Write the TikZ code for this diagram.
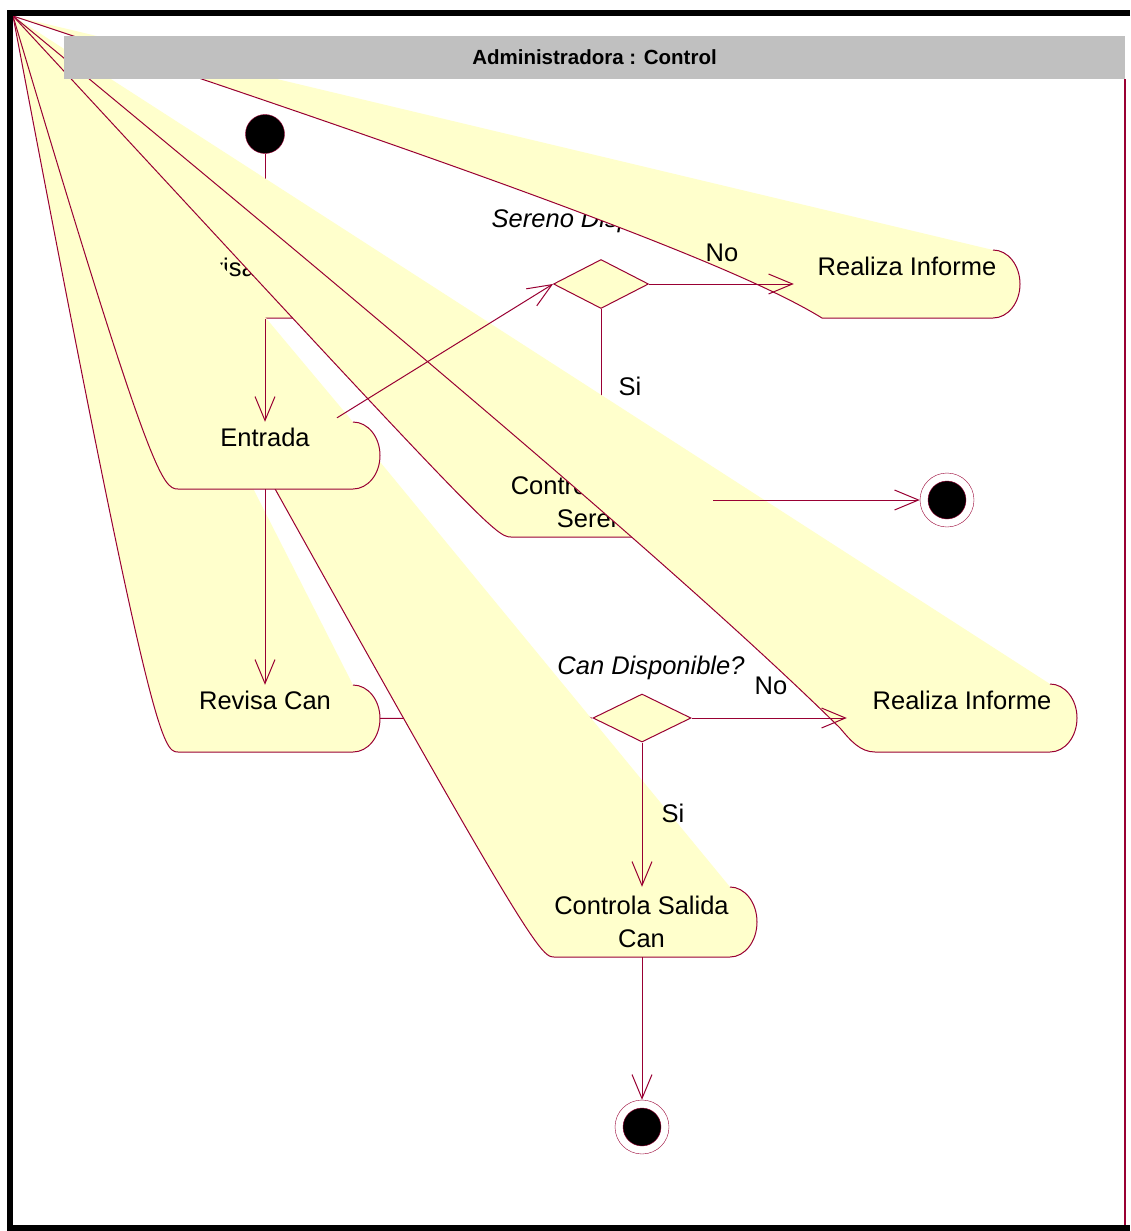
\documentclass[tikz,border=0pt]{standalone}
\usepackage{fontspec}
\setmainfont{Liberation Sans}
\usetikzlibrary{arrows.meta,positioning,shapes.geometric}
\definecolor{roseline}{RGB}{153,0,51}
\definecolor{rosefill}{RGB}{255,255,204}
\definecolor{lanegray}{RGB}{192,192,192}

\begin{document}
\begin{tikzpicture}[x=1pt,y=-1pt,
 fan/.style={fill=rosefill},
 fanedge/.style={draw=roseline,line width=1pt},
 act/.style={font=\fontsize{25.5}{33}\selectfont,inner sep=0pt,minimum width=230pt,text height=24.5pt,text depth=42.5pt},
 act2/.style={font=\fontsize{25.5}{33}\selectfont,inner sep=0pt,minimum width=230pt,minimum height=70pt,align=center},
 decision/.style={diamond,draw=roseline,line width=1pt,fill=rosefill,inner sep=0pt},
 cond/.style={font=\fontsize{25.5}{30}\selectfont\itshape,inner sep=0pt,anchor=base},
 guard/.style={font=\fontsize{25.5}{30}\selectfont,inner sep=0pt,anchor=base},
 trans/.style={draw=roseline,line width=1pt,-{Straight Barb[length=24pt,width=20pt]}},
 startnode/.style={circle,draw=roseline,fill=black,minimum size=39pt,inner sep=0pt},
 endnode/.style={circle,draw=roseline,fill=white,minimum size=54pt,inner sep=0pt,
   path picture={\draw[roseline,fill=black] (path picture bounding box.center) circle (19pt);}}]
\useasboundingbox (0,0) rectangle (1130,1231);
\fill[white] (0,0) rectangle (1130,1231);
\coordinate (apex) at (13,16);

% Revisa Entrada
\fill[fan] (apex) -- (353,252) arc[start angle=90,end angle=-90,x radius=27pt,y radius=33pt] -- (178,318) .. controls (162.5,318) and (150,305.5) .. (apex) -- cycle;
\draw[fanedge] (353,252) arc[start angle=90,end angle=-90,x radius=27pt,y radius=33pt] -- (178,318) .. controls (162.5,318) and (150,305.5) .. (apex);
\node[act] (revent) at (265,285) {Revisa Entrada};
\node[startnode] (start) at (265,134) {};
\draw[trans] (start) -- (revent);

% Revisa Can
\fill[fan] (apex) -- (353,685) arc[start angle=90,end angle=-90,x radius=27pt,y radius=33.5pt] -- (178,752) .. controls (162.5,752) and (150,739.5) .. (apex) -- cycle;
\draw[fanedge] (353,685) arc[start angle=90,end angle=-90,x radius=27pt,y radius=33.5pt] -- (178,752) .. controls (162.5,752) and (150,739.5) .. (apex);
\node[act] (revcan) at (265,718.5) {Revisa Can};
\node[decision,minimum width=98pt,minimum height=48pt] (deccan) at (642,718) {};
\node[cond] (deccan-l) at (651,674) {Can Disponible?};
\draw[trans] (revcan) -- (deccan.west);

% Controla Salida Can
\fill[fan] (apex) -- (730,887) arc[start angle=90,end angle=-90,x radius=27pt,y radius=35pt] -- (554,957) .. controls (538.5,957) and (526,944.5) .. (apex) -- cycle;
\draw[fanedge] (730,887) arc[start angle=90,end angle=-90,x radius=27pt,y radius=35pt] -- (554,957) .. controls (538.5,957) and (526,944.5) .. (apex);
\node[act2] (ctrlcan) at (641.5,922) {Controla Salida\\Can};

% Entrada
\fill[fan] (apex) -- (353,422) arc[start angle=90,end angle=-90,x radius=27pt,y radius=33.5pt] -- (178,489) .. controls (162.5,489) and (150,476.5) .. (apex) -- cycle;
\draw[fanedge] (353,422) arc[start angle=90,end angle=-90,x radius=27pt,y radius=33.5pt] -- (178,489) .. controls (162.5,489) and (150,476.5) .. (apex);
\node[act] (entrada) at (265,455.5) {Entrada};

% Controla Salida Sereno
\fill[fan] (apex) -- (686,467) arc[start angle=90,end angle=-90,x radius=27pt,y radius=35pt] -- (511,537) .. controls (495.5,537) and (483,524.5) .. (apex) -- cycle;
\draw[fanedge] (686,467) arc[start angle=90,end angle=-90,x radius=27pt,y radius=35pt] -- (511,537) .. controls (495.5,537) and (483,524.5) .. (apex);
\node[act2] (ctrlser) at (598,502) {Controla Salida\\Sereno};
\node[decision,minimum width=95pt,minimum height=49pt] (decser) at (601,284) {};
\node[cond] (decser-l) at (603,227) {Sereno Disponible?};
\draw[trans] (decser) -- (decser |- ctrlser.north);
\node[guard] (si1) at (630,395) {Si};

% Realiza Informe (Can)
\fill[fan] (apex) -- (1050,684) arc[start angle=90,end angle=-90,x radius=27pt,y radius=34pt] -- (875,752) .. controls (860,752) and (850,740) .. (840,728) .. controls (700,590) and (430,360) .. (apex) -- cycle;
\draw[fanedge] (1050,684) arc[start angle=90,end angle=-90,x radius=27pt,y radius=34pt] -- (875,752) .. controls (860,752) and (850,740) .. (840,728) .. controls (700,590) and (430,360) .. (apex);
\node[act] (inf2) at (962,718) {Realiza Informe};

% Realiza Informe (Sereno)
\fill[fan] (apex) -- (993,250) arc[start angle=90,end angle=-90,x radius=27pt,y radius=34pt] -- (822,318) .. controls (760,280) and (600,210) .. (apex) -- cycle;
\draw[fanedge] (993,250) arc[start angle=90,end angle=-90,x radius=27pt,y radius=34pt] -- (822,318) .. controls (760,280) and (600,210) .. (apex);
\node[act,minimum width=226pt] (inf1) at (907,284) {Realiza Informe};

% swimlane header
\fill[lanegray] (64,36) rectangle (1125,79);
\node[font=\bfseries\fontsize{20.5}{24}\selectfont,inner sep=0pt,anchor=base] (lane) at (594.5,64) {Administradora : Control};

\node[endnode] (end1) at (947,500) {};
\node[endnode] (end2) at (642,1127) {};
\draw[trans] (revent) -- (entrada);
\draw[trans] ([xshift=72pt,yshift=4pt]entrada.north) -- (decser.west);
\draw[trans] (entrada) -- (revcan);
\draw[trans] (decser) -- (inf1);
\node[guard] (no1) at (722,261) {No};
\draw[trans] (ctrlser.east |- end1) -- (end1);
\draw[trans] (deccan) -- (inf2);
\node[guard] (no2) at (771,694) {No};
\draw[trans] (deccan) -- (deccan |- ctrlcan.north);
\node[guard] (si2) at (673,822) {Si};
\draw[trans] (end2 |- ctrlcan.south) -- (end2);

% frame
\draw[roseline,line width=2pt] (1125,79) -- (1125,1226);
\draw[line width=6pt] (1130,13) -- (10,13) -- (10,1228) -- (1130,1228);
\end{tikzpicture}
\end{document}
